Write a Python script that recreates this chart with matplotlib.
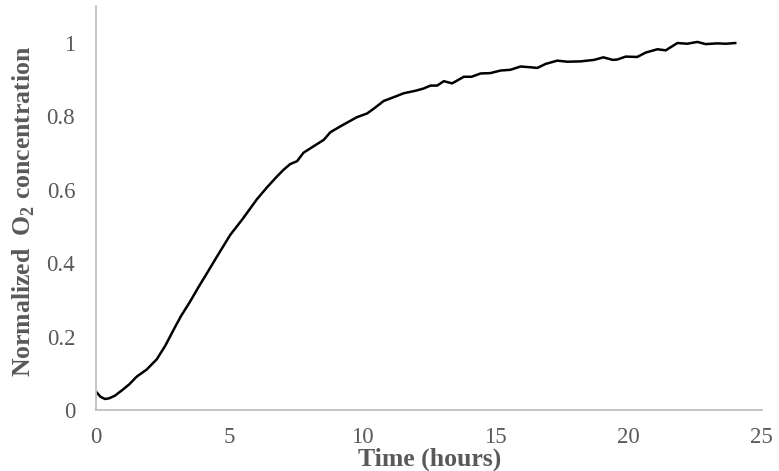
import matplotlib
matplotlib.use("Agg")
import matplotlib.pyplot as plt

time_h = [0, 0.17, 0.34, 0.5, 0.71, 1.0, 1.25, 1.53, 1.9, 2.28, 2.6, 2.91, 3.2, 3.53, 3.85,
          4.16, 4.6, 5.04, 5.5, 6.04, 6.4, 6.79, 7.05, 7.29, 7.55, 7.79, 8.2, 8.55, 8.8, 9.3,
          9.8, 10.18, 10.5, 10.8, 11.2, 11.55, 12.0, 12.3, 12.56, 12.81, 13.06, 13.37, 13.81,
          14.1, 14.44, 14.81, 15.19, 15.56, 15.94, 16.3, 16.57, 16.88, 17.32, 17.7, 18.2, 18.7,
          19.05, 19.4, 19.57, 19.89, 20.32, 20.64, 21.08, 21.39, 21.83, 22.2, 22.58, 22.89,
          23.33, 23.65, 24.0]
o2_norm = [0.050, 0.036, 0.030, 0.032, 0.039, 0.055, 0.070, 0.091, 0.110, 0.138, 0.175, 0.218,
           0.257, 0.295, 0.335, 0.372, 0.425, 0.477, 0.520, 0.574, 0.605, 0.636, 0.655, 0.670,
           0.678, 0.701, 0.720, 0.736, 0.757, 0.778, 0.798, 0.808, 0.825, 0.842, 0.853, 0.863,
           0.870, 0.876, 0.884, 0.884, 0.896, 0.890, 0.908, 0.908, 0.917, 0.918, 0.925, 0.927,
           0.936, 0.934, 0.932, 0.943, 0.952, 0.949, 0.950, 0.954, 0.961, 0.954, 0.955, 0.963,
           0.962, 0.974, 0.983, 0.980, 1.000, 0.998, 1.003, 0.997, 0.999, 0.998, 1.000]

x_ticks = [0, 5, 10, 15, 20, 25]
y_ticks = [0, 0.2, 0.4, 0.6, 0.8, 1.0]
y_tick_labels = ["0", "0.2", "0.4", "0.6", "0.8", "1"]

plt.rcParams['font.family'] = ['Liberation Serif', 'DejaVu Serif']
plt.rcParams['mathtext.fontset'] = 'custom'
plt.rcParams['mathtext.rm'] = 'Liberation Serif'
plt.rcParams['mathtext.bf'] = 'Liberation Serif:bold'

text_col = '#595959'
axis_col = '#bfbfbf'

fig = plt.figure(figsize=(7.79, 4.71), dpi=100)
ax = fig.add_axes([0.1232, 0.1295, 0.978 - 0.1232, 0.9866 - 0.1295])
ax.plot(time_h, o2_norm, color='black', linewidth=1.8)
ax.set_xlim(0, 25)
ax.set_ylim(0, 1.1)
ax.set_xticks(x_ticks)
ax.set_yticks(y_ticks)
ax.set_yticklabels(y_tick_labels)
for s in ['top', 'right']:
    ax.spines[s].set_visible(False)
for s in ['left', 'bottom']:
    ax.spines[s].set_color(axis_col)
    ax.spines[s].set_linewidth(1.3)
ax.tick_params(axis='both', length=0, labelsize=16.5, colors=text_col)
ax.tick_params(axis='x', pad=12)
ax.tick_params(axis='y', pad=15)

fig.text(0.551, 0.011, 'Time (hours)', ha='center', va='baseline', fontsize=18.5,
         fontweight='bold', color=text_col)
fig.text(0.031, 0.552, r'Normalized  O$_\mathbf{2}$ concentration', ha='center', va='center',
         rotation=90, fontsize=18.5, fontweight='bold', color=text_col)

fig.savefig('out.png', dpi=100)
